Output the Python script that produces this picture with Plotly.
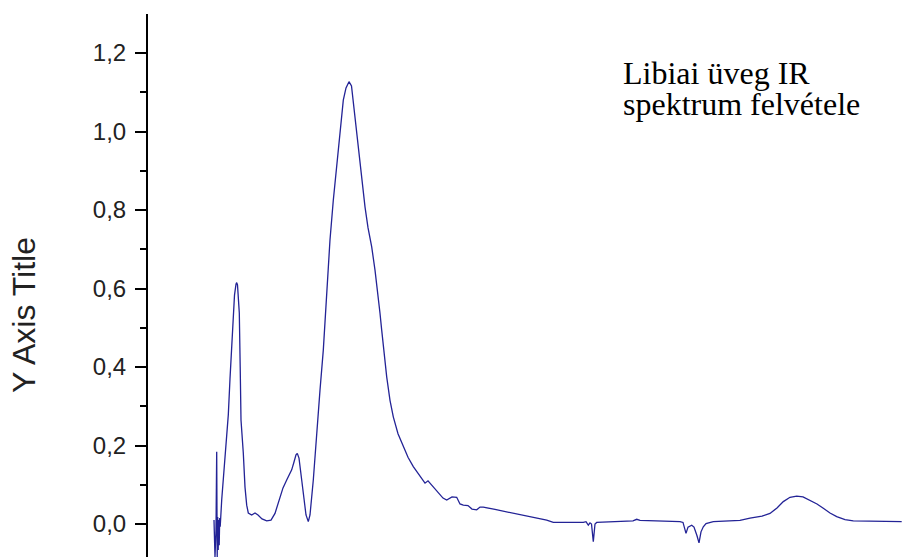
import plotly.graph_objects as go

# Wavenumber-like x values (arbitrary units, hidden axis) and absorbance
wavenumber = [
    330, 335, 340, 343.5, 346, 348.5, 351, 353.5, 356, 358.5, 361, 368.5, 376.5, 385, 393.5,
    401.5, 410, 420, 426.5, 432.5, 440, 443.5, 447.5, 452.5, 456.5, 461, 465, 476.5, 485,
    493.5, 501.5, 518.5, 535, 550, 570, 593.5, 615, 635, 660, 675, 693.5, 718.5, 730, 740,
    746.5, 755, 768.5, 780, 790, 801.5, 810, 826.5, 843.5, 860, 876.5, 893.5, 910, 926.5,
    935, 951.5, 976.5, 990, 1005, 1017.5, 1025, 1035, 1050, 1068.5, 1085, 1100, 1118.5,
    1135, 1151.5, 1160, 1168.5, 1176.5, 1193.5, 1210, 1226.5, 1250, 1276.5, 1300, 1326.5,
    1360, 1385, 1400, 1418.5, 1440, 1460, 1475, 1493.5, 1520, 1543.5, 1560, 1576.5, 1600,
    1620, 1643.5, 1660, 1676.5, 1735, 1826.5, 1910, 1993.5, 2026.5, 2176.5, 2190, 2201.5,
    2210, 2217.5, 2226.5, 2235, 2243.5, 2326.5, 2425, 2443.5, 2460, 2660, 2675, 2690, 2700,
    2718.5, 2730, 2745, 2755, 2765, 2776.5, 2790, 2826.5, 2960, 3010, 3070, 3110, 3145,
    3176.5, 3210, 3243.5, 3275, 3310, 3345, 3376.5, 3410, 3443.5, 3485, 3526.5, 3660, 3768.5,
]
absorbance = [
    0.010, -0.085, -0.015, 0.184, -0.085, 0.018, -0.066, 0.010, -0.054, 0.015, -0.007, 0.061,
    0.120, 0.181, 0.232, 0.278, 0.370, 0.469, 0.537, 0.583, 0.611, 0.615, 0.609, 0.571,
    0.538, 0.400, 0.265, 0.181, 0.094, 0.048, 0.028, 0.023, 0.028, 0.023, 0.013, 0.008,
    0.010, 0.027, 0.070, 0.092, 0.112, 0.138, 0.158, 0.176, 0.180, 0.168, 0.112, 0.061,
    0.023, 0.006, 0.023, 0.112, 0.239, 0.341, 0.443, 0.596, 0.724, 0.825, 0.866, 0.953,
    1.080, 1.111, 1.127, 1.116, 1.080, 1.038, 0.960, 0.880, 0.808, 0.755, 0.706, 0.647,
    0.580, 0.537, 0.494, 0.456, 0.375, 0.315, 0.273, 0.230, 0.197, 0.170, 0.146, 0.120,
    0.104, 0.110, 0.099, 0.087, 0.074, 0.066, 0.061, 0.069, 0.068, 0.051, 0.048, 0.047,
    0.038, 0.036, 0.043, 0.043, 0.037, 0.027, 0.018, 0.010, 0.004, 0.004, 0.006, -0.003,
    0.003, 0.000, -0.045, 0.000, 0.004, 0.006, 0.008, 0.012, 0.009, 0.006, 0.004, -0.024,
    -0.008, -0.003, -0.008, -0.030, -0.048, -0.020, -0.007, 0.001, 0.006, 0.009, 0.015,
    0.020, 0.027, 0.041, 0.057, 0.068, 0.071, 0.069, 0.061, 0.051, 0.040, 0.028, 0.019,
    0.011, 0.008, 0.006, 0.006,
]

y_tickvals = [0.0, 0.2, 0.4, 0.6, 0.8, 1.0, 1.2]
y_title = "Y Axis Title"
note_line1 = "Libiai üveg IR"
note_line2 = "spektrum felvétele"

fig = go.Figure()
fig.add_trace(go.Scatter(
    x=wavenumber, y=absorbance, mode="lines",
    line=dict(color="rgb(35,35,150)", width=1.3),
    showlegend=False, hoverinfo="skip",
))

fig.update_layout(
    width=902, height=557,
    margin=dict(l=148, r=0, t=14, b=0),
    paper_bgcolor="white", plot_bgcolor="white",
    separators=",.",
    xaxis=dict(visible=False, range=[0, 3770]),
    yaxis=dict(
        range=[-0.0841, 1.2994],
        tickvals=y_tickvals, tickformat=".1f",
        showline=True, linecolor="black", linewidth=2,
        ticks="outside", ticklen=11, tickwidth=2, tickcolor="black",
        minor=dict(dtick=0.1, tick0=0, ticks="outside", ticklen=6, tickwidth=2, tickcolor="black"),
        showgrid=False, zeroline=False, ticklabelstandoff=4,
        tickfont=dict(family="Liberation Sans, Arial", size=24, color="#222"),
    ),
    annotations=[
        dict(text=y_title, xref="paper", yref="paper", x=-0.1645, y=0.4457,
             xanchor="center", yanchor="middle", textangle=-90, showarrow=False,
             font=dict(family="Liberation Sans, Arial", size=32, color="#222")),
        dict(text=note_line1, xref="paper", yref="paper", x=0.6273, y=0.8913,
             xanchor="left", yanchor="middle", showarrow=False,
             font=dict(family="Liberation Serif, Times New Roman", size=32, color="black")),
        dict(text=note_line2, xref="paper", yref="paper", x=0.6273, y=0.8343,
             xanchor="left", yanchor="middle", showarrow=False,
             font=dict(family="Liberation Serif, Times New Roman", size=32, color="black")),
    ],
)

fig.write_html("out.html", config={"displayModeBar": False},
               post_script="document.body.style.margin='0';")
